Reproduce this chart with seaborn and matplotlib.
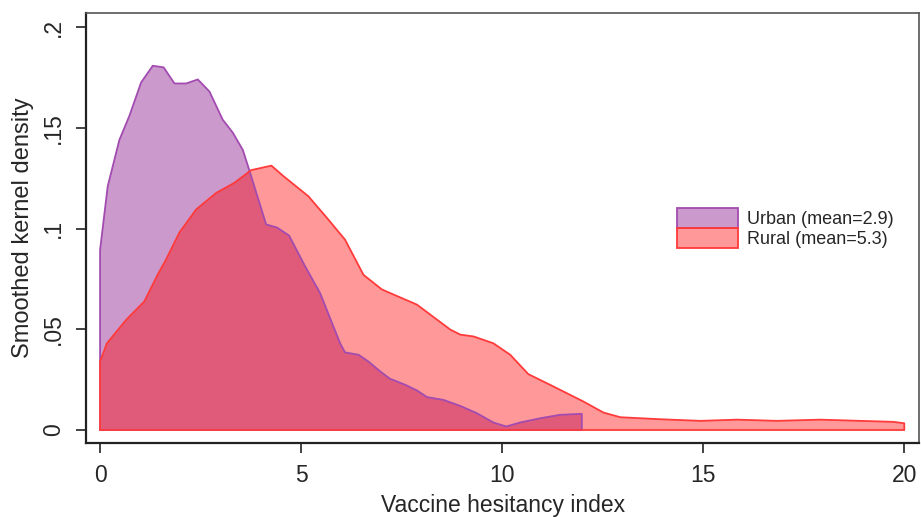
import numpy as np
import pandas as pd
import matplotlib
matplotlib.use("Agg")
import matplotlib.pyplot as plt
import seaborn as sns
from matplotlib.patches import Patch

# Smoothed kernel density
urban_x = [0.0, 0.0, 0.19, 0.48, 0.73, 1.02, 1.31, 1.58, 1.85, 2.14, 2.43, 2.72,
           3.05, 3.30, 3.55, 3.71, 4.13, 4.40, 4.70, 5.10, 5.47, 5.97, 6.09,
           6.43, 6.67, 6.97, 7.21, 7.59, 7.88, 8.13, 8.54, 8.96, 9.37, 9.78,
           10.10, 10.45, 10.95, 11.44, 11.98, 11.98]
urban_y = [0.0, 0.0895, 0.121, 0.144, 0.156, 0.1725, 0.1808, 0.180, 0.172, 0.172,
           0.174, 0.168, 0.154, 0.1476, 0.139, 0.129, 0.102, 0.1005, 0.0965,
           0.0812, 0.068, 0.043, 0.0385, 0.0373, 0.034, 0.029, 0.0254, 0.0224,
           0.0196, 0.0163, 0.0149, 0.0119, 0.0083, 0.0037, 0.0017, 0.0037,
           0.0058, 0.0075, 0.008, 0.0]

rural_x = [0.0, 0.0, 0.17, 0.65, 1.10, 1.43, 1.64, 1.97, 2.39, 2.89, 3.34, 3.76,
           4.26, 4.56, 5.18, 5.64, 6.09, 6.55, 7.01, 7.88, 8.71, 8.96, 9.29,
           9.78, 10.20, 10.65, 11.19, 12.02, 12.52, 12.94, 13.93, 14.93, 15.84,
           16.83, 17.91, 18.90, 19.73, 20.0, 20.0]
rural_y = [0.0, 0.034, 0.043, 0.0547, 0.0638, 0.077, 0.0846, 0.0979, 0.1095,
           0.1177, 0.1227, 0.129, 0.1312, 0.126, 0.116, 0.1053, 0.0945, 0.077,
           0.0697, 0.0622, 0.0498, 0.0473, 0.0464, 0.043, 0.0373, 0.0277,
           0.0224, 0.0141, 0.0086, 0.0063, 0.0053, 0.0045, 0.0051, 0.0045,
           0.0051, 0.0045, 0.004, 0.0033, 0.0]

groups = ["Urban (mean=2.9)", "Rural (mean=5.3)"]
x_ticks = [0, 5, 10, 15, 20]
y_ticks = [0, 0.05, 0.1, 0.15, 0.2]
y_tick_labels = ["0", ".05", ".1", ".15", ".2"]

sns.set_theme(style="white")
plt.rcParams["font.family"] = ["Liberation Sans", "DejaVu Sans"]

df = pd.concat([
    pd.DataFrame({"x": urban_x, "y": urban_y, "group": groups[0]}),
    pd.DataFrame({"x": rural_x, "y": rural_y, "group": groups[1]}),
])

fills = {groups[0]: (0.50, 0.0, 0.50, 0.40), groups[1]: (1.0, 0.0, 0.0, 0.40)}
edges = {groups[0]: "#A24BB0", groups[1]: "#FF3A3A"}

fig = plt.figure(figsize=(9.21, 5.17), dpi=100)
ax = fig.add_axes([0.0934, 0.1431, 0.9046, 0.8318])

for g in groups:
    d = df[df["group"] == g]
    ax.fill_between(d["x"], 0, d["y"], facecolor=fills[g], edgecolor="none")
    sns.lineplot(data=d, x="x", y="y", sort=False, estimator=None,
                 color=edges[g], linewidth=1.3, ax=ax)
    ax.plot([d["x"].min(), d["x"].max()], [0, 0], color=edges[g], linewidth=1.3)

ax.set_xlim(-0.35, 20.37)
ax.set_ylim(-0.0065, 0.207)
ax.set_xticks(x_ticks)
ax.set_xticklabels([str(t) for t in x_ticks], fontsize=16.5)
ax.set_yticks(y_ticks)
ax.set_yticklabels(y_tick_labels, fontsize=16.5, rotation=90, va="center")
ax.tick_params(axis="both", which="major", direction="out", length=7, width=1.2,
               color="#222222", bottom=True, left=True, pad=8)
ax.set_xlabel("Vaccine hesitancy index", fontsize=16.5, labelpad=5)
ax.set_ylabel("Smoothed kernel density", fontsize=17, labelpad=6)

for side in ["left", "bottom"]:
    ax.spines[side].set_color("#222222")
    ax.spines[side].set_linewidth(1.6)
for side in ["top", "right"]:
    ax.spines[side].set_color("#555555")
    ax.spines[side].set_linewidth(1.2)

handles = [Patch(facecolor=fills[g], edgecolor=edges[g], linewidth=1.3) for g in groups]
ax.legend(handles, groups, loc="center left", bbox_to_anchor=(0.7005, 0.5),
          frameon=False, fontsize=13, handlelength=3.4, handleheight=1.35,
          labelspacing=0.0, handletextpad=0.5, borderaxespad=0)

fig.savefig("out.png", dpi=100)
